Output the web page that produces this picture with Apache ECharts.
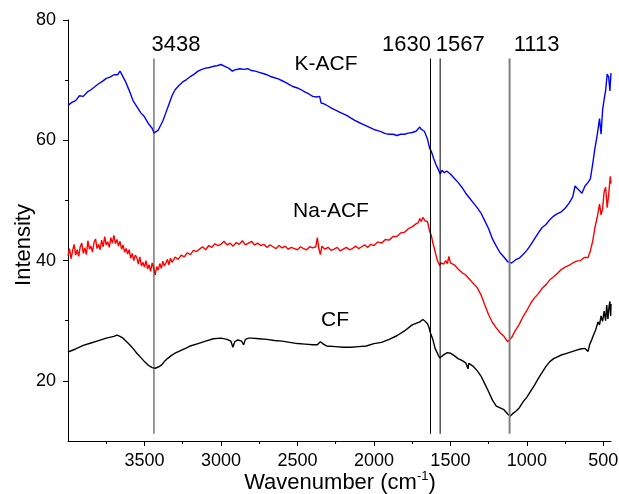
<!DOCTYPE html>
<html><head><meta charset="utf-8">
<script src="https://cdn.jsdelivr.net/npm/echarts@6/dist/echarts.min.js"></script>
<style>html,body{margin:0;padding:0;background:#fff}#c{width:619px;height:494px}</style>
</head><body><div id="c"></div>
<script>
// ---- data (wavenumber, intensity) ----
const kacf = [
[4000,65.8],[3975,66.3],[3950,66.6],[3925,67.4],[3900,67.3],[3875,68.0],[3850,68.4],[3825,68.9],[3800,69.4],[3775,69.8],
[3750,70.3],[3725,70.5],[3700,70.9],[3675,70.9],[3660,71.5],[3645,70.8],[3625,69.8],[3600,68.3],[3575,66.6],[3550,65.6],
[3525,64.6],[3500,63.9],[3475,62.8],[3450,62.0],[3438,61.2],[3425,61.4],[3410,61.7],[3400,62.2],[3380,63.2],[3360,64.6],
[3340,66.0],[3320,67.4],[3300,68.4],[3275,69.1],[3250,69.7],[3225,70.1],[3200,70.6],[3175,71.0],[3150,71.5],[3125,71.8],
[3100,72.0],[3075,72.1],[3050,72.3],[3025,72.4],[3000,72.6],[2975,72.3],[2950,72.0],[2925,71.5],[2910,71.7],[2900,72.0],
[2875,71.9],[2850,71.8],[2825,71.9],[2800,71.6],[2775,71.5],[2750,71.3],[2725,71.1],[2700,70.9],[2675,70.6],[2650,70.4],
[2625,70.2],[2600,69.9],[2575,69.6],[2550,69.2],[2525,68.9],[2500,68.7],[2475,68.4],[2450,68.0],[2425,67.7],[2400,67.3],
[2375,67.2],[2355,67.3],[2345,66.2],[2330,66.1],[2300,65.7],[2275,65.3],[2250,65.0],[2225,64.7],[2200,64.4],[2175,64.1],
[2150,63.7],[2125,63.3],[2100,63.0],[2075,62.7],[2050,62.4],[2025,62.1],[2000,61.8],[1975,61.6],[1950,61.4],[1925,61.1],
[1900,61.0],[1875,61.0],[1850,60.8],[1825,61.0],[1800,61.0],[1775,61.2],[1750,61.3],[1725,61.5],[1700,62.2],[1690,61.8],
[1670,61.5],[1650,60.2],[1635,58.6],[1625,58.2],[1610,57.0],[1595,56.0],[1580,55.2],[1567,54.4],[1555,55.0],[1540,54.6],
[1525,54.9],[1500,54.4],[1475,53.7],[1450,53.0],[1425,52.2],[1400,51.2],[1375,50.4],[1350,49.6],[1325,48.8],[1300,47.9],
[1275,46.6],[1250,45.3],[1225,43.6],[1200,42.4],[1175,41.3],[1150,40.6],[1125,39.8],[1113,40.0],[1100,39.6],[1075,40.1],
[1050,40.4],[1025,41.0],[1000,41.7],[975,42.6],[950,43.6],[925,44.6],[900,45.5],[875,46.0],[850,46.8],[825,47.4],
[800,47.8],[775,48.1],[750,48.7],[725,49.5],[700,50.6],[685,52.4],[670,52.0],[655,51.6],[640,51.2],[620,52.4],
[600,53.0],[585,53.6],[570,56.0],[555,58.7],[540,60.9],[525,63.6],[515,61.0],[505,65.0],[495,66.8],[485,68.3],
[475,71.0],[465,70.5],[457,68.2],[450,71.2]
];
const naacf = [
[4000,40.8],[3990,42.0],[3980,40.3],[3970,41.6],[3960,42.7],[3950,40.9],[3940,41.8],[3930,40.7],[3920,42.3],[3910,42.9],
[3900,41.2],[3890,42.1],[3880,41.0],[3870,43.3],[3860,41.9],[3850,42.4],[3840,41.4],[3830,43.0],[3820,43.6],[3810,42.0],
[3800,42.7],[3790,41.8],[3780,43.4],[3770,42.3],[3760,44.0],[3750,42.6],[3740,43.1],[3730,42.2],[3720,43.8],[3710,42.9],
[3700,44.2],[3690,42.8],[3680,43.5],[3670,42.4],[3660,43.2],[3650,41.9],[3640,42.6],[3630,41.4],[3620,42.0],[3610,41.1],
[3600,41.8],[3590,40.4],[3580,41.2],[3570,40.0],[3560,40.9],[3550,40.5],[3540,39.4],[3530,40.6],[3520,39.1],[3510,39.7],
[3500,38.9],[3490,40.0],[3480,38.6],[3470,39.3],[3460,38.2],[3450,39.6],[3440,38.8],[3430,37.6],[3420,39.0],[3410,38.4],
[3400,39.5],[3390,38.7],[3380,39.9],[3370,39.1],[3360,39.6],[3350,40.2],[3340,39.3],[3330,40.4],[3320,39.7],[3310,40.1],
[3300,40.6],[3280,40.2],[3260,40.9],[3240,40.6],[3220,41.3],[3200,41.0],[3180,41.7],[3160,41.5],[3140,41.9],[3120,42.3],
[3100,41.8],[3080,42.5],[3060,42.2],[3040,42.8],[3020,42.5],[3000,42.7],[2980,43.2],[2960,42.6],[2940,42.9],[2920,42.4],
[2900,43.0],[2880,42.7],[2860,43.3],[2840,42.6],[2820,42.9],[2800,43.2],[2780,42.6],[2760,42.9],[2740,42.5],[2720,42.7],
[2700,42.2],[2680,42.6],[2660,42.3],[2640,42.0],[2620,42.5],[2600,42.1],[2580,42.4],[2560,41.9],[2540,42.2],[2520,42.0],
[2500,41.8],[2480,42.3],[2460,42.0],[2440,41.8],[2420,42.3],[2400,42.1],[2380,42.3],[2370,43.8],[2360,42.0],[2350,41.0],
[2340,42.4],[2320,41.9],[2300,42.2],[2280,41.7],[2260,41.9],[2240,42.2],[2220,41.6],[2200,41.9],[2180,42.2],[2160,41.8],
[2140,42.0],[2120,42.4],[2100,42.0],[2080,42.3],[2060,42.6],[2040,42.2],[2020,42.7],[2000,42.5],[1975,43.1],[1950,42.9],
[1925,43.5],[1900,43.4],[1875,44.0],[1850,44.0],[1825,44.6],[1800,44.7],[1775,45.3],[1750,45.6],[1725,46.1],[1710,46.3],
[1700,47.0],[1690,46.5],[1680,47.2],[1665,46.6],[1650,46.5],[1635,44.8],[1625,44.2],[1615,43.0],[1600,41.5],[1585,40.0],
[1570,39.2],[1560,39.6],[1545,39.4],[1530,40.0],[1520,39.5],[1510,40.7],[1500,39.6],[1490,39.9],[1475,39.3],[1450,38.6],
[1425,38.0],[1400,37.6],[1375,36.9],[1350,36.2],[1325,35.5],[1300,34.3],[1275,32.6],[1250,31.0],[1225,29.7],[1200,28.8],
[1175,28.0],[1150,27.4],[1125,26.5],[1115,26.3],[1100,27.2],[1075,28.4],[1050,29.4],[1025,30.7],[1000,31.7],[975,32.9],
[950,33.8],[925,34.5],[900,35.4],[875,36.0],[850,36.8],[825,37.3],[800,37.9],[775,38.5],[750,38.9],[725,39.2],
[700,39.6],[675,39.9],[650,40.0],[625,40.5],[600,40.5],[585,41.6],[570,43.2],[555,45.5],[540,47.2],[525,49.4],
[515,47.6],[505,48.6],[495,51.5],[485,52.2],[475,48.8],[465,51.0],[455,54.0],[450,52.8]
];
const cf = [
[4000,24.8],[3950,25.3],[3900,25.9],[3850,26.3],[3800,26.7],[3750,27.1],[3700,27.4],[3680,27.6],[3660,27.4],[3640,27.1],
[3620,26.6],[3600,26.1],[3575,25.4],[3550,24.6],[3525,23.9],[3500,23.2],[3475,22.6],[3450,22.2],[3430,22.1],[3410,22.3],
[3390,22.6],[3370,23.2],[3350,23.7],[3325,24.2],[3300,24.6],[3275,24.9],[3250,25.2],[3225,25.5],[3200,25.8],[3150,26.2],
[3100,26.6],[3050,27.0],[3000,27.1],[2960,26.9],[2935,26.6],[2922,25.6],[2910,26.5],[2890,26.8],[2865,26.6],[2852,26.0],
[2840,26.9],[2820,27.1],[2800,27.1],[2750,27.0],[2700,26.9],[2650,26.7],[2600,26.6],[2550,26.4],[2500,26.2],[2450,26.1],
[2400,26.0],[2370,26.0],[2350,26.5],[2330,26.1],[2310,25.8],[2250,25.7],[2200,25.6],[2150,25.6],[2100,25.7],[2050,25.8],
[2000,26.2],[1950,26.4],[1900,26.9],[1850,27.5],[1800,28.3],[1750,29.3],[1700,29.8],[1680,30.2],[1665,29.9],[1650,29.5],
[1640,28.9],[1630,27.9],[1615,26.9],[1600,25.4],[1585,24.6],[1570,23.8],[1560,24.0],[1540,24.4],[1520,24.7],[1500,24.6],
[1475,24.2],[1450,23.7],[1425,23.4],[1400,23.0],[1385,22.0],[1380,22.9],[1350,22.4],[1325,21.7],[1300,20.8],[1275,19.5],
[1250,18.2],[1225,16.8],[1200,15.8],[1175,15.5],[1150,15.2],[1125,14.5],[1110,14.1],[1090,14.6],[1070,15.0],[1050,15.5],
[1025,16.5],[1000,17.3],[975,18.3],[950,19.3],[925,20.4],[900,21.4],[875,22.4],[850,23.2],[825,23.7],[800,24.0],
[775,24.3],[750,24.5],[725,24.7],[700,24.9],[675,25.1],[650,25.3],[620,25.4],[600,24.9],[590,26.0],[575,26.9],
[565,27.6],[550,28.5],[535,29.8],[525,29.3],[515,30.8],[505,29.9],[495,31.6],[485,30.0],[478,32.6],[470,30.3],
[462,32.5],[457,33.2],[452,30.8],[450,32.8]
];
const peaks = [3438, 1630, 1567, 1113];
const peakSpan = [11.2, 73.6];
const xMajor = [3500, 3000, 2500, 2000, 1500, 1000, 500];
const xMinor = [3750, 3250, 2750, 2250, 1750, 1250, 750];
const yMajor = [20, 40, 60, 80];
const yMinor = [30, 50, 70];

const FONT = 'Liberation Sans, Arial, sans-serif';
const chart = echarts.init(document.getElementById('c'), null, {renderer: 'canvas'});

const peakStyles = [
  {color: '#333', width: 1},
  {color: '#000', width: 1},
  {color: '#000', width: 1},
  {color: '#808080', width: 2}
];
const peakOffsets = [22, -24, 20, 27];

const series = [
  {name: 'CF', type: 'line', data: cf, showSymbol: false, lineStyle: {color: '#000', width: 1.4}},
  {name: 'Na-ACF', type: 'line', data: naacf, showSymbol: false, lineStyle: {color: '#ff0000', width: 1.4}},
  {name: 'K-ACF', type: 'line', data: kacf, showSymbol: false, lineStyle: {color: '#0000ff', width: 1.4}}
];
peaks.forEach((p, i) => {
  series.push({
    type: 'line', data: [[p, peakSpan[0]], [p, peakSpan[1]]], showSymbol: false,
    lineStyle: {color: peakStyles[i].color, width: peakStyles[i].width}, z: 3
  });
  series.push({
    type: 'scatter', data: [[p, peakSpan[1]]], symbolSize: 1, itemStyle: {opacity: 0},
    label: {show: true, position: 'top', distance: 2, offset: [peakOffsets[i], 0],
      formatter: String(p), fontSize: 22, color: '#000', opacity: 1, fontFamily: FONT}
  });
});

const axisBase = {
  axisLine: {show: true, lineStyle: {color: '#000', width: 1}},
  splitLine: {show: false}
};
const plain = v => String(v);

chart.setOption({
  animation: false,
  backgroundColor: '#fff',
  grid: {left: 68, right: 8, top: 20, bottom: 53, containLabel: false, outerBoundsMode: 'none'},
  xAxis: [
    Object.assign({}, axisBase, {
      type: 'value', min: 450, max: 4000, inverse: true, position: 'bottom',
      axisTick: {show: true, length: 5, customValues: xMajor, lineStyle: {color: '#000'}},
      axisLabel: {show: true, customValues: xMajor, formatter: plain, fontSize: 18, color: '#000', fontFamily: FONT, margin: 11}
    }),
    {
      type: 'value', min: 450, max: 4000, inverse: true, position: 'bottom',
      axisLine: {show: false}, splitLine: {show: false}, axisLabel: {show: false},
      axisTick: {show: true, length: 3, customValues: xMinor, lineStyle: {color: '#000'}}
    }
  ],
  yAxis: [
    Object.assign({}, axisBase, {
      type: 'value', min: 10, max: 80,
      axisTick: {show: true, length: 5, customValues: yMajor, lineStyle: {color: '#000'}},
      axisLabel: {show: true, customValues: yMajor, formatter: plain, fontSize: 18, color: '#000', fontFamily: FONT, margin: 12}
    }),
    {
      type: 'value', min: 10, max: 80, position: 'left',
      axisLine: {show: false}, splitLine: {show: false}, axisLabel: {show: false},
      axisTick: {show: true, length: 3, customValues: yMinor, lineStyle: {color: '#000'}}
    }
  ],
  graphic: [
    {type: 'text', x: 326, y: 64, style: {text: 'K-ACF', font: '21px ' + FONT, fill: '#000', align: 'center', verticalAlign: 'middle'}},
    {type: 'text', x: 331, y: 211, style: {text: 'Na-ACF', font: '21px ' + FONT, fill: '#000', align: 'center', verticalAlign: 'middle'}},
    {type: 'text', x: 335, y: 320, style: {text: 'CF', font: '21px ' + FONT, fill: '#000', align: 'center', verticalAlign: 'middle'}},
    {type: 'text', x: 24, y: 245, rotation: Math.PI / 2, style: {text: 'Intensity', font: '22px ' + FONT, fill: '#000', align: 'center', verticalAlign: 'middle'}},
    {type: 'text', x: 340, y: 483, style: {text: 'Wavenumber (cm{sup|-1})', font: '22px ' + FONT, fill: '#000', align: 'center', verticalAlign: 'middle',
      rich: {sup: {fontSize: 13, fontFamily: FONT, fill: '#000', padding: [0, 0, 14, 0]}}}}
  ],
  series: series
});
</script>
</body></html>
